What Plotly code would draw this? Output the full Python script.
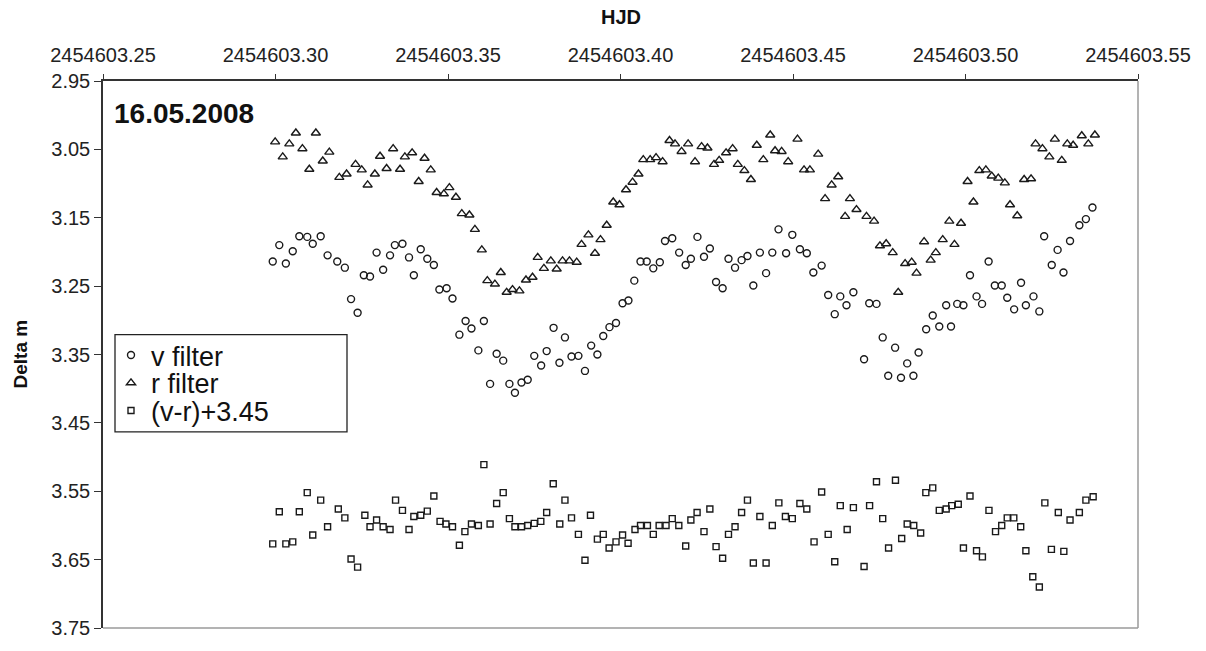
import plotly.graph_objects as go

HJD0 = 2454603.0

# v filter (circles): day fraction after HJD0, magnitude difference
v_t = [0.2992, 0.3011, 0.3030, 0.3050, 0.3069, 0.3092, 0.3108, 0.3131, 0.3151, 0.3179,
       0.3201, 0.3219, 0.3238, 0.3256, 0.3274, 0.3293, 0.3312, 0.3332, 0.3346, 0.3368,
       0.3387, 0.3401, 0.3421, 0.3440, 0.3459, 0.3475, 0.3496, 0.3513, 0.3533, 0.3551,
       0.3568, 0.3588, 0.3604, 0.3622, 0.3641, 0.3660, 0.3678, 0.3694, 0.3713, 0.3731,
       0.3750, 0.3770, 0.3786, 0.3806, 0.3823, 0.3839, 0.3858, 0.3878, 0.3897, 0.3915,
       0.3933, 0.3950, 0.3968, 0.3987, 0.4006, 0.4023, 0.4040, 0.4058, 0.4076, 0.4095,
       0.4114, 0.4129, 0.4150, 0.4170, 0.4189, 0.4204, 0.4223, 0.4242, 0.4259, 0.4277,
       0.4296, 0.4313, 0.4332, 0.4351, 0.4368, 0.4385, 0.4404, 0.4422, 0.4440, 0.4458,
       0.4480, 0.4498, 0.4520, 0.4540, 0.4559, 0.4583, 0.4602, 0.4621, 0.4637, 0.4655,
       0.4675, 0.4706, 0.4721, 0.4742, 0.4760, 0.4776, 0.4796, 0.4813, 0.4831, 0.4849,
       0.4864, 0.4886, 0.4905, 0.4924, 0.4944, 0.4958, 0.4976, 0.4994, 0.5013, 0.5032,
       0.5048, 0.5067, 0.5085, 0.5105, 0.5121, 0.5141, 0.5161, 0.5175, 0.5197, 0.5214,
       0.5228, 0.5250, 0.5267, 0.5284, 0.5303, 0.5330, 0.5349, 0.5368]
v_m = [3.214, 3.190, 3.217, 3.199, 3.177, 3.178, 3.188, 3.177, 3.205, 3.214,
       3.223, 3.269, 3.289, 3.234, 3.236, 3.201, 3.226, 3.205, 3.190, 3.188,
       3.208, 3.234, 3.196, 3.210, 3.219, 3.255, 3.253, 3.268, 3.321, 3.301,
       3.312, 3.344, 3.301, 3.393, 3.349, 3.359, 3.393, 3.406, 3.391, 3.387,
       3.352, 3.366, 3.345, 3.311, 3.362, 3.325, 3.353, 3.352, 3.374, 3.337,
       3.350, 3.323, 3.310, 3.304, 3.275, 3.271, 3.242, 3.214, 3.214, 3.224,
       3.215, 3.184, 3.180, 3.201, 3.219, 3.210, 3.178, 3.207, 3.195, 3.244,
       3.253, 3.210, 3.223, 3.212, 3.206, 3.249, 3.201, 3.231, 3.201, 3.167,
       3.202, 3.175, 3.196, 3.202, 3.230, 3.220, 3.263, 3.291, 3.265, 3.278,
       3.259, 3.357, 3.275, 3.276, 3.325, 3.381, 3.340, 3.384, 3.363, 3.381,
       3.347, 3.313, 3.293, 3.309, 3.278, 3.309, 3.276, 3.278, 3.234, 3.265,
       3.276, 3.214, 3.249, 3.249, 3.267, 3.284, 3.245, 3.278, 3.265, 3.287,
       3.177, 3.219, 3.197, 3.230, 3.184, 3.161, 3.152, 3.135]

# r filter (triangles)
r_t = [0.2999, 0.3021, 0.3040, 0.3059, 0.3078, 0.3098, 0.3117, 0.3137, 0.3156, 0.3185,
       0.3206, 0.3232, 0.3250, 0.3267, 0.3288, 0.3303, 0.3322, 0.3341, 0.3361, 0.3375,
       0.3396, 0.3415, 0.3432, 0.3450, 0.3467, 0.3488, 0.3504, 0.3523, 0.3540, 0.3562,
       0.3578, 0.3598, 0.3614, 0.3636, 0.3653, 0.3670, 0.3687, 0.3707, 0.3726, 0.3745,
       0.3760, 0.3778, 0.3798, 0.3815, 0.3832, 0.3852, 0.3873, 0.3887, 0.3907, 0.3926,
       0.3942, 0.3960, 0.3979, 0.3997, 0.4016, 0.4035, 0.4052, 0.4066, 0.4086, 0.4103,
       0.4122, 0.4142, 0.4158, 0.4177, 0.4196, 0.4216, 0.4235, 0.4252, 0.4271, 0.4286,
       0.4306, 0.4325, 0.4340, 0.4359, 0.4378, 0.4395, 0.4414, 0.4434, 0.4448, 0.4467,
       0.4486, 0.4513, 0.4532, 0.4549, 0.4573, 0.4593, 0.4612, 0.4631, 0.4651, 0.4665,
       0.4684, 0.4713, 0.4735, 0.4752, 0.4770, 0.4789, 0.4805, 0.4825, 0.4844, 0.4858,
       0.4880, 0.4899, 0.4914, 0.4934, 0.4953, 0.4968, 0.4987, 0.5006, 0.5023, 0.5040,
       0.5059, 0.5076, 0.5095, 0.5114, 0.5129, 0.5150, 0.5170, 0.5190, 0.5203, 0.5223,
       0.5243, 0.5259, 0.5279, 0.5295, 0.5312, 0.5337, 0.5356, 0.5375]
r_m = [3.039, 3.061, 3.042, 3.026, 3.049, 3.079, 3.026, 3.067, 3.054, 3.091,
       3.086, 3.072, 3.080, 3.102, 3.086, 3.060, 3.078, 3.049, 3.079, 3.061,
       3.055, 3.097, 3.063, 3.080, 3.113, 3.115, 3.106, 3.120, 3.144, 3.146,
       3.167, 3.197, 3.242, 3.247, 3.230, 3.259, 3.255, 3.257, 3.241, 3.237,
       3.208, 3.224, 3.213, 3.225, 3.213, 3.213, 3.215, 3.189, 3.175, 3.202,
       3.182, 3.161, 3.127, 3.131, 3.109, 3.098, 3.086, 3.065, 3.065, 3.062,
       3.068, 3.037, 3.042, 3.053, 3.042, 3.068, 3.046, 3.048, 3.072, 3.066,
       3.055, 3.049, 3.072, 3.081, 3.094, 3.044, 3.065, 3.029, 3.052, 3.053,
       3.068, 3.035, 3.080, 3.080, 3.057, 3.122, 3.102, 3.090, 3.148, 3.122,
       3.138, 3.148, 3.155, 3.191, 3.188, 3.201, 3.259, 3.217, 3.215, 3.231,
       3.185, 3.212, 3.201, 3.182, 3.155, 3.189, 3.158, 3.097, 3.127, 3.081,
       3.080, 3.089, 3.092, 3.099, 3.131, 3.147, 3.094, 3.093, 3.042, 3.049,
       3.061, 3.035, 3.066, 3.042, 3.044, 3.030, 3.042, 3.029]

# (v-r)+3.45 (squares)
d_t = [0.2992, 0.3011, 0.3030, 0.3050, 0.3069, 0.3092, 0.3108, 0.3131, 0.3151, 0.3182,
       0.3201, 0.3219, 0.3238, 0.3259, 0.3274, 0.3293, 0.3312, 0.3332, 0.3348, 0.3368,
       0.3387, 0.3401, 0.3421, 0.3440, 0.3459, 0.3477, 0.3494, 0.3513, 0.3533, 0.3549,
       0.3568, 0.3588, 0.3604, 0.3622, 0.3641, 0.3660, 0.3678, 0.3694, 0.3713, 0.3731,
       0.3750, 0.3769, 0.3786, 0.3805, 0.3824, 0.3839, 0.3858, 0.3878, 0.3897, 0.3913,
       0.3933, 0.3950, 0.3967, 0.3987, 0.4006, 0.4022, 0.4042, 0.4058, 0.4078, 0.4095,
       0.4112, 0.4132, 0.4150, 0.4169, 0.4189, 0.4204, 0.4222, 0.4242, 0.4259, 0.4277,
       0.4296, 0.4313, 0.4332, 0.4351, 0.4368, 0.4385, 0.4404, 0.4422, 0.4440, 0.4459,
       0.4478, 0.4498, 0.4520, 0.4540, 0.4561, 0.4583, 0.4602, 0.4621, 0.4637, 0.4657,
       0.4675, 0.4706, 0.4722, 0.4742, 0.4760, 0.4777, 0.4797, 0.4815, 0.4831, 0.4850,
       0.4870, 0.4885, 0.4905, 0.4924, 0.4944, 0.4960, 0.4979, 0.4994, 0.5013, 0.5032,
       0.5049, 0.5068, 0.5087, 0.5105, 0.5121, 0.5140, 0.5160, 0.5175, 0.5195, 0.5214,
       0.5230, 0.5249, 0.5269, 0.5285, 0.5303, 0.5330, 0.5349, 0.5370]
d_m = [3.627, 3.580, 3.627, 3.624, 3.580, 3.552, 3.614, 3.563, 3.602, 3.576,
       3.589, 3.649, 3.661, 3.585, 3.602, 3.592, 3.602, 3.606, 3.563, 3.578,
       3.606, 3.587, 3.585, 3.579, 3.557, 3.594, 3.598, 3.602, 3.629, 3.609,
       3.598, 3.600, 3.511, 3.598, 3.568, 3.552, 3.590, 3.602, 3.602, 3.600,
       3.597, 3.594, 3.581, 3.539, 3.598, 3.563, 3.589, 3.613, 3.651, 3.585,
       3.620, 3.613, 3.633, 3.624, 3.614, 3.626, 3.606, 3.600, 3.600, 3.613,
       3.600, 3.600, 3.590, 3.600, 3.630, 3.592, 3.581, 3.609, 3.576, 3.631,
       3.648, 3.613, 3.602, 3.581, 3.563, 3.655, 3.587, 3.655, 3.600, 3.567,
       3.587, 3.590, 3.568, 3.576, 3.624, 3.551, 3.613, 3.653, 3.571, 3.606,
       3.574, 3.660, 3.571, 3.536, 3.590, 3.633, 3.534, 3.619, 3.598, 3.600,
       3.611, 3.552, 3.545, 3.578, 3.576, 3.571, 3.569, 3.633, 3.557, 3.637,
       3.646, 3.578, 3.609, 3.600, 3.589, 3.589, 3.602, 3.637, 3.675, 3.690,
       3.567, 3.635, 3.581, 3.638, 3.592, 3.581, 3.563, 3.558]

series_names = ["v filter", "r filter", "(v-r)+3.45"]
x_ticks = [0.25, 0.30, 0.35, 0.40, 0.45, 0.50, 0.55]
x_ticklabels = ["2454603.25", "2454603.30", "2454603.35", "2454603.40",
                "2454603.45", "2454603.50", "2454603.55"]
y_ticks = [2.95, 3.05, 3.15, 3.25, 3.35, 3.45, 3.55, 3.65, 3.75]
y_ticklabels = ["2.95", "3.05", "3.15", "3.25", "3.35", "3.45", "3.55", "3.65", "3.75"]

FONT = "Liberation Sans, Arial, sans-serif"
MC = "#1a1a1a"

W, H = 1206, 651
L, R, T, B = 103, 1138, 81, 633


def px(xp):
    return (xp - L) / (R - L)


def py(yp):
    return (B - yp) / (B - T)


fig = go.Figure()
fig.add_trace(go.Scatter(x=[HJD0 + t for t in v_t], y=v_m, mode="markers", name=series_names[0],
                         legend="legend",
                         marker=dict(symbol="circle-open", size=7, color=MC, line=dict(width=1.4, color=MC))))
fig.add_trace(go.Scatter(x=[HJD0 + t for t in r_t], y=r_m, mode="markers", name=series_names[1],
                         legend="legend2",
                         marker=dict(symbol="triangle-up-open", size=8, color=MC, line=dict(width=1.4, color=MC))))
fig.add_trace(go.Scatter(x=[HJD0 + t for t in d_t], y=d_m, mode="markers", name=series_names[2],
                         legend="legend3",
                         marker=dict(symbol="square-open", size=6, color=MC, line=dict(width=1.4, color=MC))))

leg_common = dict(xanchor="left", yanchor="middle", bgcolor="rgba(0,0,0,0)", borderwidth=0,
                  font=dict(family=FONT, size=27, color="#111111"), itemwidth=30)

fig.update_layout(
    width=W, height=H,
    margin=dict(l=L, r=W - R, t=T, b=H - B),
    paper_bgcolor="white", plot_bgcolor="white",
    font=dict(family=FONT, color="#222222", size=20),
    showlegend=True,
    legend=dict(x=px(111), y=py(358), **leg_common),
    legend2=dict(x=px(111), y=py(386), **leg_common),
    legend3=dict(x=px(111), y=py(414), **leg_common),
    xaxis=dict(side="top", range=[HJD0 + 0.25, HJD0 + 0.55],
               tickvals=[HJD0 + t for t in x_ticks], ticktext=x_ticklabels,
               ticks="outside", ticklen=5, tickwidth=1.3, tickcolor="#333333",
               ticklabelstandoff=4,
               showline=True, linecolor="#333333", linewidth=1.5,
               showgrid=False, zeroline=False,
               tickfont=dict(family=FONT, size=20, color="#222222")),
    yaxis=dict(range=[3.75, 2.95], tickvals=y_ticks, ticktext=y_ticklabels,
               ticks="outside", ticklen=7, tickwidth=1.3, tickcolor="#333333",
               showline=True, linecolor="#333333", linewidth=1.5,
               showgrid=False, zeroline=False,
               tickfont=dict(family=FONT, size=20, color="#222222")),
    shapes=[
        dict(type="line", xref="paper", yref="paper", x0=1, x1=1, y0=0, y1=1,
             line=dict(color="#9a9a9a", width=1.5)),
        dict(type="line", xref="paper", yref="paper", x0=0, x1=1, y0=0, y1=0,
             line=dict(color="#9a9a9a", width=1.5)),
        dict(type="rect", xref="paper", yref="paper", x0=px(115), x1=px(347), y0=py(435), y1=py(337),
             line=dict(color="#222222", width=1.3), fillcolor="rgba(0,0,0,0)"),
    ],
    annotations=[
        dict(text="<b>HJD</b>", xref="paper", yref="paper", x=0.5, y=py(16),
             xanchor="center", yanchor="middle", showarrow=False,
             font=dict(family=FONT, size=20, color="#111111")),
        dict(text="<b>Delta m</b>", xref="paper", yref="paper", x=px(20), y=0.5,
             xanchor="center", yanchor="middle", showarrow=False, textangle=-90,
             font=dict(family=FONT, size=19, color="#111111")),
        dict(text="<b>16.05.2008</b>", xref="paper", yref="paper", x=px(112), y=py(114),
             xanchor="left", yanchor="middle", showarrow=False,
             font=dict(family=FONT, size=28, color="#111111")),
    ],
)

fig.write_html("out.html")
